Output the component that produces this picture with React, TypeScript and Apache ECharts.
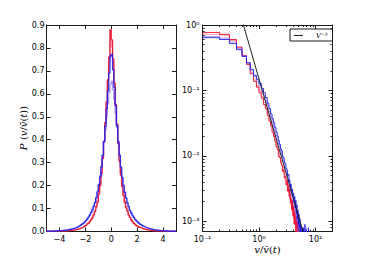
import React, { useEffect, useRef } from "react";
import * as echarts from "echarts";

// ---------- Left panel: PDF of v / v̄(t), bins of width 0.1 from -5 to 5 ----------
const leftBinStart = -5;
const leftBinWidth = 0.1;

const leftRed = [
  0.0004, 0.0006, 0.0005, 0.0008, 0.0007, 0.0009, 0.0012, 0.0010, 0.0014, 0.0013,
  0.0016, 0.0019, 0.0017, 0.0024, 0.0026, 0.0031, 0.0035, 0.0041, 0.0046, 0.0055,
  0.0062, 0.0071, 0.0083, 0.0095, 0.0112, 0.0130, 0.0150, 0.0176, 0.0198, 0.0235,
  0.027, 0.032, 0.036, 0.043, 0.051, 0.060, 0.072, 0.088, 0.106, 0.128,
  0.162, 0.200, 0.252, 0.318, 0.392, 0.474, 0.565, 0.662, 0.760, 0.880,
  0.835, 0.752, 0.648, 0.552, 0.466, 0.382, 0.305, 0.246, 0.196, 0.158,
  0.127, 0.103, 0.089, 0.071, 0.061, 0.049, 0.043, 0.035, 0.031, 0.025,
  0.022, 0.0185, 0.0163, 0.0138, 0.0121, 0.0098, 0.0091, 0.0074, 0.0068, 0.0055,
  0.0051, 0.0042, 0.0039, 0.0031, 0.0030, 0.0024, 0.0023, 0.0018, 0.0018, 0.0014,
  0.0013, 0.0011, 0.0012, 0.0008, 0.0009, 0.0006, 0.0007, 0.0005, 0.0004, 0.0003,
];
const leftPink = [
  0.0005, 0.0004, 0.0007, 0.0006, 0.0009, 0.0008, 0.0011, 0.0013, 0.0012, 0.0016,
  0.0017, 0.0020, 0.0023, 0.0025, 0.0029, 0.0034, 0.0037, 0.0044, 0.0049, 0.0058,
  0.0066, 0.0075, 0.0088, 0.0098, 0.0118, 0.0134, 0.0158, 0.0181, 0.0207, 0.0242,
  0.028, 0.033, 0.038, 0.045, 0.053, 0.063, 0.075, 0.091, 0.110, 0.134,
  0.168, 0.207, 0.258, 0.322, 0.396, 0.476, 0.560, 0.650, 0.735, 0.830,
  0.805, 0.738, 0.642, 0.556, 0.472, 0.392, 0.318, 0.256, 0.205, 0.166,
  0.134, 0.109, 0.092, 0.076, 0.063, 0.053, 0.045, 0.037, 0.032, 0.027,
  0.023, 0.0196, 0.0168, 0.0146, 0.0124, 0.0106, 0.0092, 0.0079, 0.0069, 0.0059,
  0.0052, 0.0045, 0.0040, 0.0034, 0.0030, 0.0026, 0.0023, 0.0020, 0.0018, 0.0015,
  0.0014, 0.0012, 0.0011, 0.0009, 0.0009, 0.0007, 0.0006, 0.0006, 0.0005, 0.0004,
];
const leftBlue = [
  0.0011, 0.0014, 0.0012, 0.0016, 0.0019, 0.0018, 0.0023, 0.0026, 0.0025, 0.0031,
  0.0036, 0.0041, 0.0045, 0.0052, 0.0059, 0.0068, 0.0076, 0.0088, 0.0098, 0.0113,
  0.0128, 0.0146, 0.0166, 0.0188, 0.0212, 0.0245, 0.0278, 0.0315, 0.0358, 0.0412,
  0.047, 0.054, 0.063, 0.071, 0.082, 0.094, 0.109, 0.126, 0.146, 0.172,
  0.203, 0.238, 0.282, 0.332, 0.392, 0.458, 0.535, 0.612, 0.690, 0.765,
  0.772, 0.705, 0.628, 0.548, 0.462, 0.392, 0.334, 0.282, 0.236, 0.201,
  0.171, 0.146, 0.124, 0.108, 0.092, 0.081, 0.069, 0.062, 0.052, 0.047,
  0.040, 0.036, 0.031, 0.028, 0.024, 0.021, 0.0185, 0.0162, 0.0141, 0.0124,
  0.0109, 0.0097, 0.0085, 0.0075, 0.0066, 0.0058, 0.0051, 0.0045, 0.0040, 0.0035,
  0.0031, 0.0027, 0.0025, 0.0021, 0.0019, 0.0017, 0.0015, 0.0013, 0.0012, 0.0010,
];
const leftPurple = [
  0.0012, 0.0013, 0.0015, 0.0017, 0.0018, 0.0021, 0.0023, 0.0027, 0.0029, 0.0033,
  0.0037, 0.0042, 0.0047, 0.0054, 0.0061, 0.0069, 0.0078, 0.0089, 0.0101, 0.0115,
  0.0131, 0.0149, 0.0169, 0.0192, 0.0218, 0.0248, 0.0282, 0.0320, 0.0365, 0.0415,
  0.048, 0.055, 0.064, 0.073, 0.084, 0.097, 0.112, 0.129, 0.150, 0.176,
  0.206, 0.243, 0.287, 0.335, 0.388, 0.442, 0.500, 0.556, 0.605, 0.642,
  0.655, 0.618, 0.574, 0.515, 0.452, 0.388, 0.330, 0.279, 0.236, 0.199,
  0.170, 0.145, 0.125, 0.107, 0.093, 0.080, 0.070, 0.061, 0.053, 0.046,
  0.041, 0.035, 0.031, 0.027, 0.024, 0.021, 0.0183, 0.016, 0.0142, 0.0125,
  0.011, 0.0097, 0.0086, 0.0076, 0.0067, 0.0059, 0.0052, 0.0046, 0.0041, 0.0036,
  0.0032, 0.0028, 0.0025, 0.0022, 0.0020, 0.0017, 0.0016, 0.0014, 0.0012, 0.0011,
];

const leftXTicks = [-4, -2, 0, 2, 4];

// ---------- Right panel: log-log PDF, bins of width 0.1 from 0.1 to 9.0 ----------
const rightBinStart = 0.1;
const rightBinWidth = 0.1;

const rightRed = [
  0.77, 0.72, 0.60, 0.46, 0.34, 0.25, 0.18, 0.138, 0.112, 0.092,
  0.076, 0.061, 0.052, 0.041, 0.034, 0.029, 0.023, 0.020, 0.0165, 0.0138,
  0.0125, 0.0098, 0.0094, 0.0078, 0.0072, 0.0058, 0.0061, 0.0046, 0.0049, 0.0036,
  0.0042, 0.0029, 0.0035, 0.0024, 0.0031, 0.0019, 0.0023, 0.0015, 0.0021, 0.0012,
  0.0017, 0.0009, 0.0014, 0.0011, 0.0004, 0.0012, 0.0008, 0.0010, 0.0003, 0.0009,
  0.0007, 0.0002, 0.0008, 0.0003, 0.0006, 0.0002, 0.0005, 0.0001, 0.0008, 0.0001,
  0.0006, 0.0001, 0.0001, 0.0005, 0.0001, 0.0001, 0.0001, 0.0001, 0.0001, 0.0001,
  0.0001, 0.0001, 0.0001, 0.0001, 0.0001, 0.0001, 0.0001, 0.0001, 0.0001, 0.0001,
  0.0001, 0.0001, 0.0001, 0.0001, 0.0001, 0.0001, 0.0001, 0.0001, 0.0001,
];
const rightPink = [
  0.72, 0.70, 0.58, 0.45, 0.345, 0.26, 0.19, 0.145, 0.118, 0.098,
  0.080, 0.066, 0.054, 0.045, 0.036, 0.031, 0.025, 0.021, 0.018, 0.0148,
  0.0128, 0.0112, 0.0096, 0.0085, 0.0071, 0.0068, 0.0055, 0.0052, 0.0043, 0.0044,
  0.0035, 0.0037, 0.0028, 0.0030, 0.0022, 0.0026, 0.0018, 0.0021, 0.0014, 0.0019,
  0.0011, 0.0016, 0.0009, 0.0013, 0.0012, 0.0006, 0.0011, 0.0005, 0.0009, 0.0004,
  0.0008, 0.0003, 0.0006, 0.0007, 0.0002, 0.0005, 0.0001, 0.0004, 0.0001, 0.0007,
  0.0001, 0.0001, 0.0005, 0.0001, 0.0001, 0.0001, 0.0006, 0.0001, 0.0001, 0.0001,
  0.0001, 0.0001, 0.0001, 0.0001, 0.0001, 0.0001, 0.0001, 0.0001, 0.0001, 0.0001,
  0.0001, 0.0001, 0.0001, 0.0001, 0.0001, 0.0001, 0.0001, 0.0001, 0.0001,
];
const rightBlue = [
  0.64, 0.60, 0.52, 0.42, 0.33, 0.265, 0.21, 0.17, 0.148, 0.128,
  0.108, 0.092, 0.078, 0.064, 0.053, 0.044, 0.037, 0.032, 0.027, 0.023,
  0.020, 0.0172, 0.0151, 0.0128, 0.0119, 0.0098, 0.0094, 0.0079, 0.0076, 0.0064,
  0.0061, 0.0050, 0.0052, 0.0041, 0.0043, 0.0033, 0.0037, 0.0027, 0.0031, 0.0024,
  0.0027, 0.0019, 0.0024, 0.0016, 0.0021, 0.0013, 0.0018, 0.0011, 0.0015, 0.0009,
  0.0013, 0.0008, 0.0011, 0.0005, 0.0009, 0.0007, 0.0004, 0.0008, 0.0003, 0.0006,
  0.0008, 0.0002, 0.0006, 0.0001, 0.0009, 0.0001, 0.0001, 0.0007, 0.0001, 0.0001,
  0.0005, 0.0001, 0.0001, 0.0001, 0.0008, 0.0001, 0.0001, 0.0001, 0.0001, 0.0006,
  0.0001, 0.0001, 0.0001, 0.0001, 0.0001, 0.0001, 0.0001, 0.0001, 0.0001,
];
const rightPurple = [
  0.67, 0.63, 0.55, 0.44, 0.34, 0.265, 0.205, 0.163, 0.138, 0.118,
  0.099, 0.084, 0.069, 0.058, 0.047, 0.040, 0.033, 0.028, 0.024, 0.0205,
  0.0176, 0.0152, 0.0136, 0.0116, 0.0104, 0.0091, 0.0083, 0.0071, 0.0066, 0.0057,
  0.0053, 0.0046, 0.0044, 0.0036, 0.0038, 0.0029, 0.0033, 0.0024, 0.0027, 0.0020,
  0.0024, 0.0016, 0.0020, 0.0014, 0.0017, 0.0010, 0.0015, 0.0012, 0.0006, 0.0011,
  0.0009, 0.0004, 0.0008, 0.0006, 0.0002, 0.0007, 0.0003, 0.0005, 0.0001, 0.0004,
  0.0007, 0.0001, 0.0001, 0.0006, 0.0001, 0.0001, 0.0001, 0.0008, 0.0001, 0.0001,
  0.0001, 0.0001, 0.0006, 0.0001, 0.0001, 0.0001, 0.0001, 0.0001, 0.0001, 0.0001,
  0.0001, 0.0001, 0.0001, 0.0001, 0.0001, 0.0001, 0.0001, 0.0001, 0.0001,
];

// reference power law V^-3 (two end points of a straight line in log-log)
const refLineX = [0.5, 8];
const refLineY = [1.2, 0.000293];
const refLineName = "V\u207B\u00B3";

const rightXMajor = [0.1, 1, 10];
const rightXMinor = [0.2, 0.3, 0.4, 0.5, 0.6, 0.7, 0.8, 0.9, 2, 3, 4, 5, 6, 7, 8, 9, 20];
const rightYMajor = [0.001, 0.01, 0.1, 1];
const rightYMinor = [
  0.0008, 0.0009, 0.002, 0.003, 0.004, 0.005, 0.006, 0.007, 0.008, 0.009,
  0.02, 0.03, 0.04, 0.05, 0.06, 0.07, 0.08, 0.09, 0.2, 0.3, 0.4, 0.5, 0.6, 0.7, 0.8, 0.9,
];

const RED = "rgba(232,8,40,0.88)";
const PINK = "rgba(240,70,100,0.55)";
const BLUE = "rgba(25,25,235,0.85)";
const PURPLE = "rgba(120,80,235,0.6)";
const INK = "#1a1a1a";

function histPoints(start: number, width: number, values: number[]) {
  const pts: number[][] = values.map((v, i) => [Math.round((start + i * width) * 1000) / 1000, v]);
  pts.push([Math.round((start + values.length * width) * 1000) / 1000, values[values.length - 1]]);
  return pts;
}

const SUP: Record<string, string> = { "-": "\u207B", "0": "\u2070", "1": "\u00B9", "2": "\u00B2", "3": "\u00B3" };
function powLabel(v: number) {
  const e = Math.round(Math.log10(v));
  return "10" + String(e).split("").map((c) => SUP[c] || c).join("");
}
function minusLabel(v: number) {
  return v < 0 ? "\u2212" + Math.abs(v) : String(v);
}

const tickFont = { fontFamily: "DejaVu Sans", fontSize: 8, color: "#000" };

function linAxisX(pos: "bottom" | "top", showLabel: boolean) {
  return {
    type: "value", gridIndex: 0, position: pos, min: -5, max: 5,
    axisLine: { show: true, onZero: false, lineStyle: { color: INK, width: 1 } },
    axisTick: { show: true, inside: true, length: 4, customValues: leftXTicks, lineStyle: { color: INK } },
    axisLabel: { show: showLabel, customValues: leftXTicks, formatter: minusLabel, margin: 4, ...tickFont },
    splitLine: { show: false },
  };
}
function linAxisY(pos: "left" | "right", showLabel: boolean) {
  return {
    type: "value", gridIndex: 0, position: pos, min: 0, max: 0.9, interval: 0.1,
    axisLine: { show: true, onZero: false, lineStyle: { color: INK, width: 1 } },
    axisTick: { show: true, inside: true, length: 4, lineStyle: { color: INK } },
    axisLabel: { show: showLabel, formatter: (v: number) => v.toFixed(1), margin: 2, ...tickFont },
    splitLine: { show: false },
  };
}
function logAxisX(pos: "bottom" | "top", major: boolean) {
  const vals = major ? rightXMajor : rightXMinor;
  return {
    type: "log", logBase: 10, gridIndex: 1, position: pos, min: 0.1, max: 20,
    axisLine: { show: major, onZero: false, lineStyle: { color: INK, width: 1 } },
    axisTick: { show: true, inside: true, length: major ? 4 : 2, customValues: vals, lineStyle: { color: INK } },
    axisLabel: { show: major && pos === "bottom", customValues: rightXMajor, formatter: powLabel, margin: 4, ...tickFont },
    splitLine: { show: false },
  };
}
function logAxisY(pos: "left" | "right", major: boolean) {
  const vals = major ? rightYMajor : rightYMinor;
  return {
    type: "log", logBase: 10, gridIndex: 1, position: pos, min: 0.0007, max: 1,
    axisLine: { show: major, onZero: false, lineStyle: { color: INK, width: 1 } },
    axisTick: { show: true, inside: true, length: major ? 4 : 2, customValues: vals, lineStyle: { color: INK } },
    axisLabel: { show: major && pos === "left", customValues: rightYMajor, formatter: powLabel, margin: 3, ...tickFont },
    splitLine: { show: false },
  };
}

function stepSeries(name: string, data: number[][], color: string, xi: number, yi: number, z: number, width: number) {
  return {
    name, type: "line", step: "end", data, xAxisIndex: xi, yAxisIndex: yi,
    symbol: "none", showSymbol: false, silent: true, clip: true, z,
    itemStyle: { color },
    lineStyle: { color, width },
  };
}

export default function App() {
  const ref = useRef<HTMLDivElement>(null);
  useEffect(() => {
    if (!ref.current) return;
    const chart = echarts.init(ref.current, undefined, { renderer: "svg" });
    const option = {
      animation: false,
      backgroundColor: "#fff",
      grid: [
        { left: 46.5, top: 25, width: 129.5, height: 206.5, containLabel: false },
        { left: 202.5, top: 25, width: 130, height: 206.5, containLabel: false },
      ],
      xAxis: [
        linAxisX("bottom", true),
        linAxisX("top", false),
        logAxisX("bottom", true),
        logAxisX("bottom", false),
        logAxisX("top", true),
        logAxisX("top", false),
      ],
      yAxis: [
        linAxisY("left", true),
        linAxisY("right", false),
        logAxisY("left", true),
        logAxisY("left", false),
        logAxisY("right", true),
        logAxisY("right", false),
      ],
      legend: {
        data: [{ name: refLineName, icon: "rect", itemStyle: { color: "#222" } }],
        left: 290, top: 29,
        orient: "horizontal",
        backgroundColor: "#fff",
        borderColor: INK, borderWidth: 1, borderRadius: 0,
        padding: [3, 5, 2, 4],
        itemWidth: 9, itemHeight: 1,
        selectedMode: false,
        textStyle: { fontFamily: "DejaVu Serif", fontStyle: "italic", fontSize: 7, color: "#000", padding: [0, 0, 0, 8] },
      },
      series: [
        stepSeries("lp", histPoints(leftBinStart, leftBinWidth, leftPink), PINK, 0, 0, 2, 1.3),
        stepSeries("lr", histPoints(leftBinStart, leftBinWidth, leftRed), RED, 0, 0, 3, 1.3),
        stepSeries("lu", histPoints(leftBinStart, leftBinWidth, leftPurple), PURPLE, 0, 0, 4, 1.3),
        stepSeries("lb", histPoints(leftBinStart, leftBinWidth, leftBlue), BLUE, 0, 0, 5, 1.3),
        stepSeries("rp", histPoints(rightBinStart, rightBinWidth, rightPink), PINK, 2, 2, 2, 1),
        stepSeries("rr", histPoints(rightBinStart, rightBinWidth, rightRed), RED, 2, 2, 3, 1),
        stepSeries("ru", histPoints(rightBinStart, rightBinWidth, rightPurple), PURPLE, 2, 2, 4, 1),
        stepSeries("rb", histPoints(rightBinStart, rightBinWidth, rightBlue), BLUE, 2, 2, 5, 1),
        {
          name: refLineName, type: "line", xAxisIndex: 2, yAxisIndex: 2,
          data: refLineX.map((x, i) => [x, refLineY[i]]),
          symbol: "none", showSymbol: false, silent: true, clip: true, z: 6,
          itemStyle: { color: "#222" },
          lineStyle: { color: "#222", width: 1 },
        },
      ],
      graphic: [
        {
          type: "text", x: 23, y: 128, rotation: Math.PI / 2,
          style: {
            text: "{i|P} {n|(}{i|v}{n|/}{i|v\u0304}{n|(}{i|t}{n|))}",
            align: "center", verticalAlign: "middle",
            rich: {
              i: { fontFamily: "DejaVu Serif", fontStyle: "italic", fontSize: 10, fill: "#000" },
              n: { fontFamily: "DejaVu Serif", fontSize: 10, fill: "#000" },
            },
          },
        },
        {
          type: "text", x: 267.5, y: 249,
          style: {
            text: "{i|v}{n|/}{i|v\u0304}{n|(}{i|t}{n|)}",
            align: "center", verticalAlign: "middle",
            rich: {
              i: { fontFamily: "DejaVu Serif", fontStyle: "italic", fontSize: 10, fill: "#000" },
              n: { fontFamily: "DejaVu Serif", fontSize: 10, fill: "#000" },
            },
          },
        },
      ],
    };
    chart.setOption(option as any);
    return () => chart.dispose();
  }, []);
  return <div ref={ref} style={{ position: "fixed", left: 0, top: 0, width: 370, height: 258 }} />;
}
